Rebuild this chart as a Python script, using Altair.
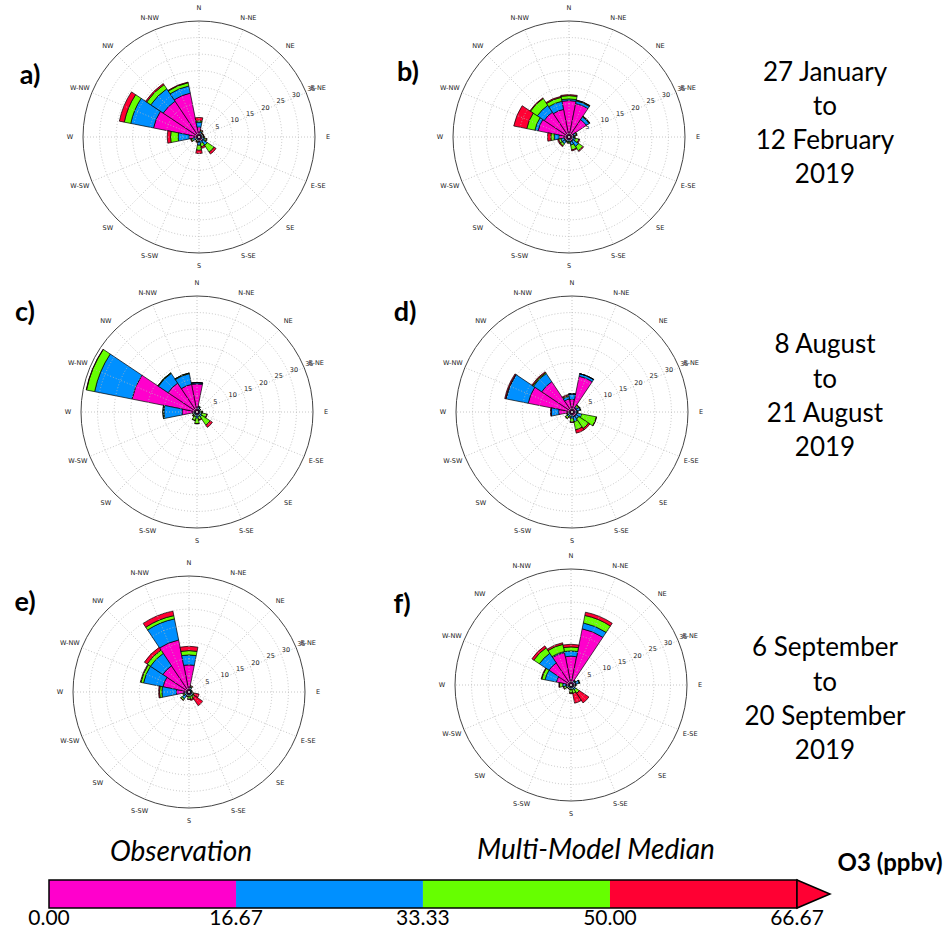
import math
import altair as alt
import pandas as pd

# ---------------- data ----------------
directions = ["N", "N-NE", "NE", "E-NE", "E", "E-SE", "SE", "S-SE",
              "S", "S-SW", "SW", "W-SW", "W", "W-NW", "NW", "N-NW"]
bin_names = ["0.00-16.67", "16.67-33.33", "33.33-50.00", "50.00-66.67"]
bin_colors = ["#FF00CC", "#0090FF", "#66FF00", "#FF0033"]

# frequency (%) per direction (N, N-NE, ... N-NW) for each O3 bin
a_bin1 = [3.0, 1.2, 0.8, 0.8, 0.8, 1.0, 1.5, 1.0, 1.5, 0.8, 0.6, 1.2, 3.0, 14.0, 13.0, 13.5]
a_bin2 = [1.5, 0.5, 0.4, 0.4, 0.4, 0.8, 1.5, 1.0, 1.0, 0.5, 0.4, 0.8, 3.3, 7.0, 4.5, 2.2]
a_bin3 = [0.4, 0.3, 0.2, 0.2, 0.3, 0.5, 2.5, 1.0, 1.5, 0.3, 0.3, 0.4, 2.3, 2.0, 1.5, 1.0]
a_bin4 = [1.0, 0.2, 0.1, 0.1, 0.1, 0.2, 0.7, 0.5, 1.0, 0.2, 0.1, 0.2, 1.0, 1.5, 0.4, 0.2]

b_bin1 = [11.0, 10.3, 6.3, 1.5, 1.0, 1.2, 1.5, 1.5, 1.0, 0.8, 1.5, 1.5, 3.0, 9.5, 9.0, 8.5]
b_bin2 = [0.5, 0.8, 1.0, 0.6, 0.5, 0.8, 2.0, 1.0, 0.5, 0.5, 1.0, 1.0, 1.5, 1.0, 2.5, 2.5]
b_bin3 = [1.0, 0.2, 0.2, 0.3, 0.3, 1.0, 1.5, 1.5, 0.4, 0.3, 0.7, 0.7, 1.0, 2.5, 2.5, 1.2]
b_bin4 = [0.3, 0.1, 0.1, 0.1, 0.1, 0.3, 0.3, 0.3, 0.1, 0.1, 0.3, 0.3, 1.0, 4.0, 0.2, 0.3]

c_bin1 = [8.5, 1.0, 0.8, 0.6, 0.8, 0.8, 1.0, 0.8, 1.0, 0.8, 0.6, 0.6, 4.5, 20.0, 10.5, 8.5]
c_bin2 = [0.4, 0.6, 0.4, 0.3, 0.5, 0.7, 0.8, 0.6, 1.0, 0.6, 0.5, 0.4, 5.5, 11.5, 3.5, 3.3]
c_bin3 = [0.0, 0.2, 0.1, 0.1, 0.3, 1.5, 3.0, 1.0, 1.5, 1.2, 0.5, 0.3, 0.3, 2.5, 0.2, 0.2]
c_bin4 = [0.0, 0.0, 0.0, 0.0, 0.1, 0.2, 0.8, 0.2, 0.1, 0.1, 0.1, 0.0, 0.0, 0.1, 0.0, 0.0]

d_bin1 = [3.8, 11.0, 1.5, 1.5, 1.0, 1.5, 1.5, 1.5, 1.0, 0.8, 1.0, 0.8, 4.0, 13.5, 11.0, 4.0]
d_bin2 = [1.7, 0.8, 0.5, 1.0, 0.6, 1.5, 1.0, 1.5, 1.0, 0.6, 0.8, 0.5, 2.3, 6.8, 3.0, 0.8]
d_bin3 = [0.0, 0.0, 0.5, 0.2, 0.2, 4.5, 3.5, 2.5, 1.0, 0.4, 0.6, 0.3, 0.0, 0.1, 0.3, 0.3]
d_bin4 = [0.0, 0.0, 0.1, 0.0, 0.0, 0.1, 0.5, 1.0, 0.2, 0.1, 0.1, 0.1, 0.2, 0.3, 0.3, 0.3]

e_bin1 = [8.2, 1.0, 0.5, 0.5, 0.5, 0.8, 1.0, 0.8, 0.8, 0.6, 1.0, 0.8, 3.8, 8.0, 9.5, 16.0]
e_bin2 = [3.0, 0.5, 0.3, 0.3, 0.3, 0.5, 0.5, 0.5, 0.5, 0.5, 1.5, 0.6, 4.4, 6.0, 4.5, 6.5]
e_bin3 = [1.3, 0.3, 0.1, 0.1, 0.2, 0.3, 0.5, 1.0, 0.8, 0.3, 0.5, 0.4, 0.7, 0.8, 1.2, 1.0]
e_bin4 = [1.3, 0.2, 0.0, 0.0, 0.1, 1.5, 3.0, 0.3, 0.2, 0.1, 0.1, 0.1, 0.3, 0.2, 1.0, 1.4]

f_bin1 = [8.7, 17.3, 1.0, 1.5, 0.8, 0.6, 1.0, 0.8, 0.8, 0.6, 0.6, 1.0, 1.5, 4.5, 8.0, 10.0]
f_bin2 = [1.6, 1.8, 0.5, 1.0, 0.5, 0.4, 0.8, 0.6, 0.6, 0.4, 0.4, 0.6, 1.0, 3.5, 3.5, 0.3]
f_bin3 = [1.2, 2.3, 0.2, 0.2, 0.2, 0.2, 1.2, 1.2, 1.0, 0.3, 0.3, 0.6, 1.0, 1.0, 2.0, 2.2]
f_bin4 = [0.8, 1.0, 0.1, 0.0, 0.0, 0.1, 3.5, 3.0, 0.2, 0.1, 0.1, 0.2, 0.2, 0.2, 0.7, 0.5]

panel_values = {
    "a": [a_bin1, a_bin2, a_bin3, a_bin4],
    "b": [b_bin1, b_bin2, b_bin3, b_bin4],
    "c": [c_bin1, c_bin2, c_bin3, c_bin4],
    "d": [d_bin1, d_bin2, d_bin3, d_bin4],
    "e": [e_bin1, e_bin2, e_bin3, e_bin4],
    "f": [f_bin1, f_bin2, f_bin3, f_bin4],
}
panel_letters = {"a": "a)", "b": "b)", "c": "c)", "d": "d)", "e": "e)", "f": "f)"}

ring_values = [5, 10, 15, 20, 25, 30]
outer_value = 35
radial_labels = ["5", "10", "15", "20", "25", "30", "35"]
radial_label_values = [5, 10, 15, 20, 25, 30, 35]

period_texts = [
    ["27 January", "to", "12 February", "2019"],
    ["8 August", "to", "21 August", "2019"],
    ["6 September", "to", "20 September", "2019"],
]

cb_edges = [0.0, 16.67, 33.33, 50.00, 66.67]
cb_labels = ["0.00", "16.67", "33.33", "50.00", "66.67"]

# ---------------- layout ----------------
W, H = 952, 933
R = 116            # pixel radius of the polar axes
LABEL_R = 129
centers = {"a": (199, 137), "b": (569, 137), "c": (197, 412),
           "d": (572, 412), "e": (189, 692), "f": (571, 685)}
letter_pos = {"a": (30, 76), "b": (408, 73), "c": (25, 313),
              "d": (405, 313), "e": (25, 603), "f": (402, 605)}
period_pos = [(825, [73, 107, 141, 175]), (825, [345, 380, 414, 448]),
              (825, [648, 683, 717, 751])]

rows = []
for p, bins in panel_values.items():
    for b, vals in enumerate(bins):
        for d, v in enumerate(vals):
            rows.append({"panel": p, "dir": d, "bin": b, "bname": bin_names[b], "value": v})
df = pd.DataFrame(rows)
dirs_df = pd.DataFrame({"dir": list(range(16)), "label": directions})

rscale = alt.Scale(type="linear", domain=[0, outer_value], range=[0, R])
cscale = alt.Scale(domain=bin_names, range=bin_colors)
TWO_PI = 2 * math.pi
HALF_W = 11.25  # petals fill the whole 22.5 degree sector


def panel_layers(p):
    cx, cy = centers[p]
    bars = alt.Chart(df).transform_filter(
        alt.datum.panel == p
    ).transform_stack(
        stack="value", groupby=["dir"], as_=["r0", "r1"],
        sort=[alt.SortField("bin", order="ascending")],
    ).transform_calculate(
        t0=f"(datum.dir * 22.5 - {HALF_W}) * PI / 180",
        t1=f"(datum.dir * 22.5 + {HALF_W}) * PI / 180",
    ).mark_arc(stroke="black", strokeWidth=0.7).encode(
        x=alt.value(cx), y=alt.value(cy),
        theta=alt.Theta("t0:Q", scale=None, stack=False), theta2="t1:Q",
        radius=alt.Radius("r1:Q", scale=rscale, stack=False), radius2="r0:Q",
        color=alt.Color("bname:N", scale=cscale, legend=None),
    )
    rings = alt.Chart(pd.DataFrame({"r": ring_values})).mark_arc(
        fillOpacity=0, stroke="#b8b8b8", strokeWidth=0.8, strokeDash=[1, 2]
    ).encode(
        x=alt.value(cx), y=alt.value(cy),
        theta=alt.value(0), theta2=alt.value(TWO_PI),
        radius=alt.Radius("r:Q", scale=rscale, stack=False),
    )
    spokes = alt.Chart(dirs_df).transform_calculate(
        ang="datum.dir * 22.5 * PI / 180"
    ).transform_calculate(
        xa=f"{cx}", ya=f"{cy}",
        xb=f"{cx} + {R} * sin(datum.ang)", yb=f"{cy} - {R} * cos(datum.ang)",
    ).mark_rule(color="#b8b8b8", strokeWidth=0.8, strokeDash=[1, 2]).encode(
        x=alt.X("xa:Q", scale=None), y=alt.Y("ya:Q", scale=None),
        x2="xb:Q", y2="yb:Q",
    )
    outer = alt.Chart(pd.DataFrame({"r": [outer_value]})).mark_arc(
        fillOpacity=0, stroke="#444444", strokeWidth=1
    ).encode(
        x=alt.value(cx), y=alt.value(cy),
        theta=alt.value(0), theta2=alt.value(TWO_PI),
        radius=alt.Radius("r:Q", scale=rscale, stack=False),
    )
    dlab = alt.Chart(dirs_df).transform_calculate(
        ang="datum.dir * 22.5 * PI / 180"
    ).mark_text(fontSize=6.5, font="DejaVu Sans", color="#222222", radius=LABEL_R).encode(
        x=alt.value(cx), y=alt.value(cy),
        theta=alt.Theta("ang:Q", scale=None, stack=False),
        text="label:N",
    )
    rlab = alt.Chart(pd.DataFrame({"r": radial_label_values, "lab": radial_labels})).mark_text(
        fontSize=6.5, font="DejaVu Sans", color="#222222", align="left", dx=1, dy=-4
    ).encode(
        x=alt.value(cx), y=alt.value(cy),
        theta=alt.value(67.5 * math.pi / 180),
        radius=alt.Radius("r:Q", scale=rscale, stack=False),
        text="lab:N",
    )
    lx, ly = letter_pos[p]
    letter = alt.Chart(pd.DataFrame({"t": [panel_letters[p]]})).mark_text(
        fontSize=27, font="Lato", fontWeight="bold", color="black"
    ).encode(x=alt.value(lx), y=alt.value(ly), text="t:N")
    return [bars, rings, spokes, outer, dlab, rlab, letter]


def text_layer(txt, x, y, **style):
    return alt.Chart(pd.DataFrame({"t": [txt]})).mark_text(**style).encode(
        x=alt.value(x), y=alt.value(y), text="t:N")


layers = []
for p in panel_values:
    layers += panel_layers(p)

for lines, (px, ys) in zip(period_texts, period_pos):
    for line, yy in zip(lines, ys):
        layers.append(text_layer(line, px, yy, fontSize=26, font="Lato", color="black"))

# colour bar
xcb = alt.Scale(domain=[cb_edges[0], cb_edges[-1]], range=[49, 797])
cb_df = pd.DataFrame({"lo": cb_edges[:-1], "hi": cb_edges[1:], "bname": bin_names})
cbar = alt.Chart(cb_df).mark_rect().encode(
    x=alt.X("lo:Q", scale=xcb, axis=None), x2="hi:Q",
    y=alt.value(880), y2=alt.value(908),
    color=alt.Color("bname:N", scale=cscale, legend=None),
)
cframe = alt.Chart(pd.DataFrame({"lo": [cb_edges[0]], "hi": [cb_edges[-1]]})).mark_rect(
    fillOpacity=0, stroke="black", strokeWidth=1.5
).encode(x=alt.X("lo:Q", scale=xcb, axis=None), x2="hi:Q", y=alt.value(880), y2=alt.value(908))
arrow = alt.Chart(pd.DataFrame({"hi": [cb_edges[-1]]})).mark_point(
    shape="M0,-0.85L2,0L0,0.85Z", size=1089, filled=True, fill="#FF0033",
    stroke="black", strokeWidth=1.5, opacity=1
).encode(x=alt.X("hi:Q", scale=xcb, axis=None), y=alt.value(894))
cticks = alt.Chart(pd.DataFrame({"v": cb_edges, "lab": cb_labels})).mark_text(
    fontSize=21, font="Lato", color="black", baseline="middle"
).encode(x=alt.X("v:Q", scale=xcb, axis=None), y=alt.value(919), text="lab:N")
layers += [cbar, cframe, arrow, cticks]
layers.append(text_layer("Observation", 181, 853, fontSize=28, font="Lato", fontStyle="italic", color="black"))
layers.append(text_layer("Multi-Model Median", 596, 851, fontSize=28, font="Lato", fontStyle="italic", color="black"))
layers.append(text_layer("O3 (ppbv)", 890, 864, fontSize=24, font="Lato", fontWeight="bold", color="black"))

chart = alt.layer(*layers).properties(
    width=W, height=H, padding=0, autosize=alt.AutoSizeParams(type="none"), background="white"
).configure_view(strokeWidth=0)

chart.save("out.html", embed_options={"renderer": "svg", "actions": False})
